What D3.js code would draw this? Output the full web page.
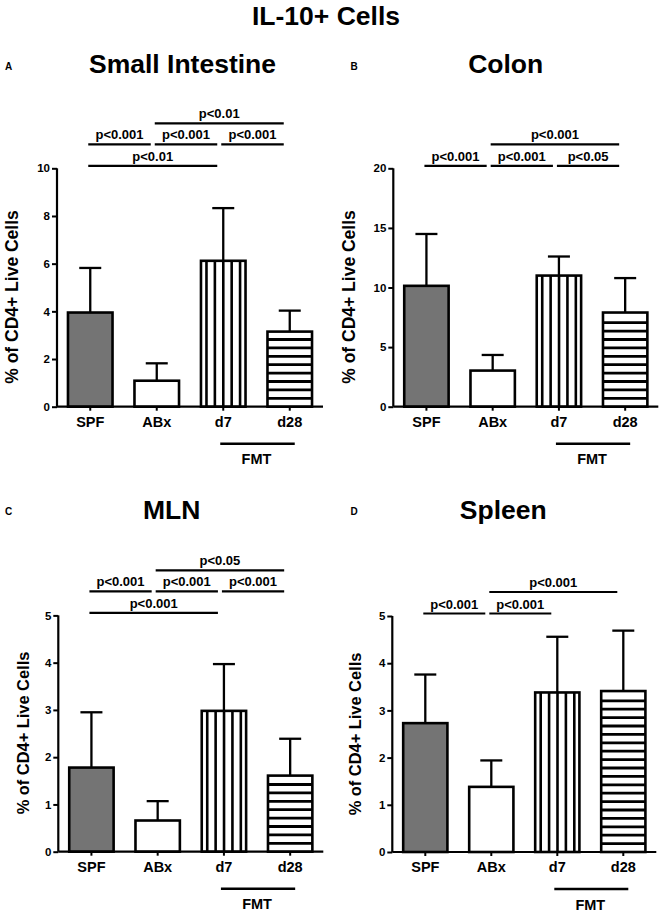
<!DOCTYPE html>
<html><head><meta charset="utf-8">
<script src="https://cdn.jsdelivr.net/npm/d3@7"></script>
<style>
body{margin:0;background:#fff}
svg{display:block}
text{font-family:"Liberation Sans",Arial,Helvetica,sans-serif;font-weight:bold;fill:#000}
</style>
</head><body><div id="chart"></div>
<script>
// ---------- data ----------
const mainTitle = "IL-10+ Cells";
const categories = ["SPF", "ABx", "d7", "d28"];
const yAxisTitle = "% of CD4+ Live Cells";
const groupLabel = "FMT";

const siTitle = "Small Intestine";
const siMean = [3.95, 1.09, 6.12, 3.15];
const siErr  = [1.87, 0.73, 2.21, 0.88];
const siTicks = [0, 2, 4, 6, 8, 10];
const siSig = [
  {from: "SPF", to: "d7",  label: "p<0.01",  row: 0},
  {from: "SPF", to: "ABx", label: "p<0.001", row: 1},
  {from: "ABx", to: "d7",  label: "p<0.001", row: 1},
  {from: "d7",  to: "d28", label: "p<0.001", row: 1},
  {from: "ABx", to: "d28", label: "p<0.01",  row: 2}
];

const colonTitle = "Colon";
const colonMean = [10.14, 3.03, 11.0, 7.9];
const colonErr  = [4.35, 1.31, 1.6, 2.89];
const colonTicks = [0, 5, 10, 15, 20];
const colonSig = [
  {from: "SPF", to: "ABx", label: "p<0.001", row: 0},
  {from: "ABx", to: "d7",  label: "p<0.001", row: 0},
  {from: "d7",  to: "d28", label: "p<0.05",  row: 0},
  {from: "ABx", to: "d28", label: "p<0.001", row: 1}
];

const mlnTitle = "MLN";
const mlnMean = [1.78, 0.66, 2.98, 1.61];
const mlnErr  = [1.17, 0.41, 0.99, 0.78];
const mlnTicks = [0, 1, 2, 3, 4, 5];
const mlnSig = [
  {from: "SPF", to: "d7",  label: "p<0.001", row: 0},
  {from: "SPF", to: "ABx", label: "p<0.001", row: 1},
  {from: "ABx", to: "d7",  label: "p<0.001", row: 1},
  {from: "d7",  to: "d28", label: "p<0.001", row: 1},
  {from: "ABx", to: "d28", label: "p<0.05",  row: 2}
];

const spleenTitle = "Spleen";
const spleenMean = [2.73, 1.38, 3.38, 3.41];
const spleenErr  = [1.03, 0.56, 1.18, 1.28];
const spleenTicks = [0, 1, 2, 3, 4, 5];
const spleenSig = [
  {from: "SPF", to: "ABx", label: "p<0.001", row: 0},
  {from: "ABx", to: "d7",  label: "p<0.001", row: 0},
  {from: "ABx", to: "d28", label: "p<0.001", row: 1}
];

// ---------- layout (pixels) ----------
const W = 661, H = 914;
const panels = [
  {letter: "A", title: siTitle, mean: siMean, err: siErr, ticks: siTicks, sig: siSig,
   ax: 57, y0: 406.7, yTop: 168.3, w: 266, titleX: 182.5, titleY: 73, letterX: 5, letterY: 69.5,
   ytX: 18, ytY: 297, ytSize: 17.5},
  {letter: "B", title: colonTitle, mean: colonMean, err: colonErr, ticks: colonTicks, sig: colonSig,
   ax: 393.3, y0: 406.7, yTop: 168.3, w: 265, titleX: 505.7, titleY: 73, letterX: 350.5, letterY: 69.5,
   ytX: 355, ytY: 297, ytSize: 17.5},
  {letter: "C", title: mlnTitle, mean: mlnMean, err: mlnErr, ticks: mlnTicks, sig: mlnSig,
   ax: 58.3, y0: 851.7, yTop: 615.4, w: 265, titleX: 171.7, titleY: 518.5, letterX: 5, letterY: 514.5,
   ytX: 28.5, ytY: 733, ytSize: 16.4},
  {letter: "D", title: spleenTitle, mean: spleenMean, err: spleenErr, ticks: spleenTicks, sig: spleenSig,
   ax: 392.3, y0: 852, yTop: 616, w: 264, titleX: 503.3, titleY: 518.5, letterX: 350.5, letterY: 514.5,
   ytX: 360.5, ytY: 734, ytSize: 16.4}
];

const svg = d3.select("#chart").append("svg").attr("width", W).attr("height", H);

svg.append("text").attr("x", 326).attr("y", 25).attr("text-anchor", "middle")
  .style("font-size", "26.5px").text(mainTitle);

panels.forEach(p => {
  const g = svg.append("g");
  const yMax = p.ticks[p.ticks.length - 1];
  const y = d3.scaleLinear().domain([0, yMax]).range([p.y0, p.yTop]);
  const x = d3.scaleBand().domain(categories).range([p.ax, p.ax + p.w])
    .paddingInner(0.33).paddingOuter(0.165);
  const cx = c => x(c) + x.bandwidth() / 2;

  // titles
  g.append("text").attr("x", p.letterX).attr("y", p.letterY).style("font-size", "10px").text(p.letter);
  g.append("text").attr("x", p.titleX).attr("y", p.titleY).attr("text-anchor", "middle")
    .style("font-size", "26.5px").text(p.title);
  g.append("text").attr("transform", `translate(${p.ytX},${p.ytY}) rotate(-90)`)
    .attr("text-anchor", "middle").style("font-size", p.ytSize + "px").text(yAxisTitle);

  // bars
  const data = categories.map((c, i) => ({c, i, v: p.mean[i], e: p.err[i]}));
  const bars = g.append("g");
  data.forEach(d => {
    const bx = x(d.c), bw = x.bandwidth(), by = y(d.v), bh = p.y0 - by;
    const bg = bars.append("g");
    bg.append("rect").attr("x", bx).attr("y", by).attr("width", bw).attr("height", bh)
      .attr("fill", d.i === 0 ? "#747474" : "#fff");
    if (d.i === 2) {
      const xs = d3.range(bx + 5.5, bx + bw - 3, 8.4);
      bg.selectAll(null).data(xs).join("line")
        .attr("x1", v => v).attr("x2", v => v).attr("y1", by).attr("y2", p.y0)
        .attr("stroke", "#000").attr("stroke-width", 2.6);
    }
    if (d.i === 3) {
      const ys = d3.range(p.y0 - 8.4, by + 3, -8.4);
      bg.selectAll(null).data(ys).join("line")
        .attr("x1", bx).attr("x2", bx + bw).attr("y1", v => v).attr("y2", v => v)
        .attr("stroke", "#000").attr("stroke-width", 2.8);
    }
    bg.append("rect").attr("x", bx).attr("y", by).attr("width", bw).attr("height", bh)
      .attr("fill", "none").attr("stroke", "#000").attr("stroke-width", 2.6);
    // error bar (upper)
    const c = cx(d.c), ye = y(d.v + d.e);
    bg.append("line").attr("x1", c).attr("x2", c).attr("y1", by).attr("y2", ye)
      .attr("stroke", "#000").attr("stroke-width", 2.3);
    bg.append("line").attr("x1", c - 11).attr("x2", c + 11).attr("y1", ye).attr("y2", ye)
      .attr("stroke", "#000").attr("stroke-width", 2.3);
  });

  // axes
  const yAxis = d3.axisLeft(y).tickValues(p.ticks).tickSize(5).tickPadding(2).tickFormat(d3.format("d"));
  const ya = g.append("g").attr("transform", `translate(${p.ax},0)`).call(yAxis);
  ya.select(".domain").attr("stroke-width", 2.2).attr("d", `M0,${p.y0}V${p.yTop}`);
  ya.selectAll(".tick line").attr("stroke-width", 2);
  ya.selectAll(".tick text").style("font-size", "11.5px").style("font-family", null);

  const xAxis = d3.axisBottom(x).tickSize(4).tickPadding(6);
  const xa = g.append("g").attr("transform", `translate(0,${p.y0})`).call(xAxis);
  xa.select(".domain").attr("stroke-width", 2.2).attr("d", `M${p.ax},0H${p.ax + p.w}`);
  xa.selectAll(".tick line").attr("stroke-width", 2);
  xa.selectAll(".tick text").style("font-size", "14.5px").style("font-family", null)
    .attr("dy", null).attr("y", 20);

  // FMT group bracket
  const fx1 = cx("d7") - 3, fx2 = cx("d28") + 5;
  g.append("line").attr("x1", fx1).attr("x2", fx2).attr("y1", p.y0 + 37).attr("y2", p.y0 + 37)
    .attr("stroke", "#000").attr("stroke-width", 2.4);
  g.append("text").attr("x", (cx("d7") + cx("d28")) / 2).attr("y", p.y0 + 57.5)
    .attr("text-anchor", "middle").style("font-size", "14.5px").text(groupLabel);

  // significance lines
  const rowOffset = [-2.5, -24, -45];
  p.sig.forEach(s => {
    const ly = p.yTop + rowOffset[s.row];
    const x1 = cx(s.from) - 2, x2 = cx(s.to) - 6;
    g.append("line").attr("x1", x1).attr("x2", x2).attr("y1", ly).attr("y2", ly)
      .attr("stroke", "#000").attr("stroke-width", 2.2);
    g.append("text").attr("x", (x1 + x2) / 2).attr("y", ly - 5).attr("text-anchor", "middle")
      .style("font-size", "13px").text(s.label);
  });
});
</script>
</body></html>
